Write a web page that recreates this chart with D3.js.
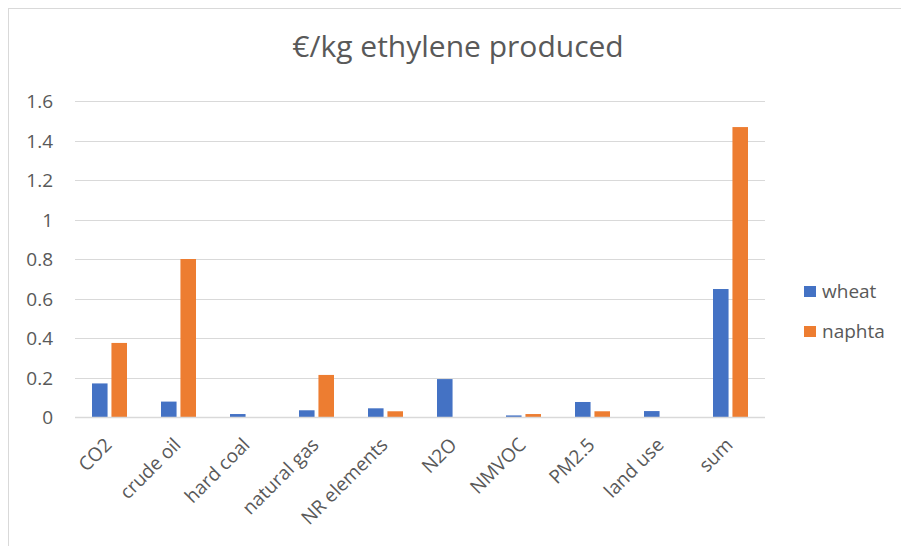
<!DOCTYPE html>
<html>
<head>
<meta charset="utf-8">
<script src="https://cdn.jsdelivr.net/npm/d3@7"></script>
<style>
  body { margin: 0; background: #fff; }
  text { font-family: "Open Sans", "Noto Sans", sans-serif; fill: #595959; }
</style>
</head>
<body>
<div id="chart"></div>
<script>
const categories = ["CO2", "crude oil", "hard coal", "natural gas", "NR elements", "N2O", "NMVOC", "PM2.5", "land use", "sum"];
const series = ["wheat", "naphta"];
const wheat  = [0.17, 0.078, 0.015, 0.034, 0.044, 0.192, 0.008, 0.076, 0.03, 0.648];
const naphta = [0.375, 0.80, 0, 0.213, 0.029, 0, 0.015, 0.029, 0, 1.468];
const yTicks = [0, 0.2, 0.4, 0.6, 0.8, 1, 1.2, 1.4, 1.6];
const colors = ["#4472C4", "#ED7D31"];

function drawChart(container) {
  const W = 901, H = 546;
  const svg = d3.select(container).append("svg")
    .attr("width", W).attr("height", H);

  // chart frame (only left/top edges are visible in the reference)
  svg.append("rect")
    .attr("x", 8.5).attr("y", 8.5)
    .attr("width", W + 10).attr("height", H + 10)
    .attr("fill", "none").attr("stroke", "#D9D9D9");

  const plot = { left: 75, right: 765, top: 101, bottom: 417 };

  const x = d3.scaleBand().domain(categories).range([plot.left, plot.right]);
  const x1 = d3.scaleBand().domain(series).range([-17.5, 17.5]).paddingInner(0.2);
  const y = d3.scaleLinear().domain([0, 1.6]).range([plot.bottom, plot.top]);
  const color = d3.scaleOrdinal(series, colors);

  // gridlines
  svg.append("g").selectAll("line")
    .data(yTicks)
    .join("line")
      .attr("x1", plot.left).attr("x2", plot.right)
      .attr("y1", d => Math.round(y(d)) + 0.5).attr("y2", d => Math.round(y(d)) + 0.5)
      .attr("stroke", "#D9D9D9").attr("stroke-width", 1);

  // y labels
  const yAxis = svg.append("g")
    .attr("transform", `translate(${plot.left - 22},0)`)
    .call(d3.axisLeft(y).tickValues(yTicks).tickSize(0).tickFormat(d3.format("~g")));
  yAxis.select(".domain").remove();
  yAxis.selectAll("text")
    .attr("x", 0).attr("dy", "0.36em")
    .style("font-size", "19px").attr("fill", "#595959");

  const rows = categories.map((c, i) => ({ cat: c, vals: [wheat[i], naphta[i]] }));

  const groups = svg.append("g").selectAll("g")
    .data(rows)
    .join("g")
      .attr("transform", d => `translate(${x(d.cat) + x.bandwidth() / 2},0)`);

  groups.selectAll("rect")
    .data(d => series.map((s, j) => ({ s, v: d.vals[j] })))
    .join("rect")
      .attr("x", d => x1(d.s))
      .attr("width", x1.bandwidth())
      .attr("y", d => y(d.v))
      .attr("height", d => y(0) - y(d.v))
      .attr("fill", d => color(d.s));

  // axis line on top
  svg.append("line")
    .attr("x1", plot.left).attr("x2", plot.right)
    .attr("y1", plot.bottom + 0.5).attr("y2", plot.bottom + 0.5)
    .attr("stroke", "#D9D9D9").attr("stroke-width", 1.5);

  // category labels
  svg.append("g").selectAll("text")
    .data(categories)
    .join("text")
      .attr("transform", d => `translate(${x(d) + x.bandwidth() / 2 + 3.5},${plot.bottom + 29}) rotate(-45)`)
      .attr("text-anchor", "end")
      .style("font-size", "19px")
      .text(d => d);

  // title
  svg.append("text")
    .attr("x", 458).attr("y", 57)
    .attr("text-anchor", "middle")
    .style("font-size", "30px")
    .text("€/kg ethylene produced");

  // legend
  const legend = svg.append("g").selectAll("g")
    .data(series)
    .join("g")
      .attr("transform", (d, i) => `translate(804,${286 + i * 40})`);
  legend.append("rect")
    .attr("width", 12).attr("height", 11)
    .attr("fill", d => color(d));
  legend.append("text")
    .attr("x", 18).attr("y", 12)
    .style("font-size", "19px")
    .text(d => d);
}

drawChart(document.getElementById("chart"));
</script>
</body>
</html>
